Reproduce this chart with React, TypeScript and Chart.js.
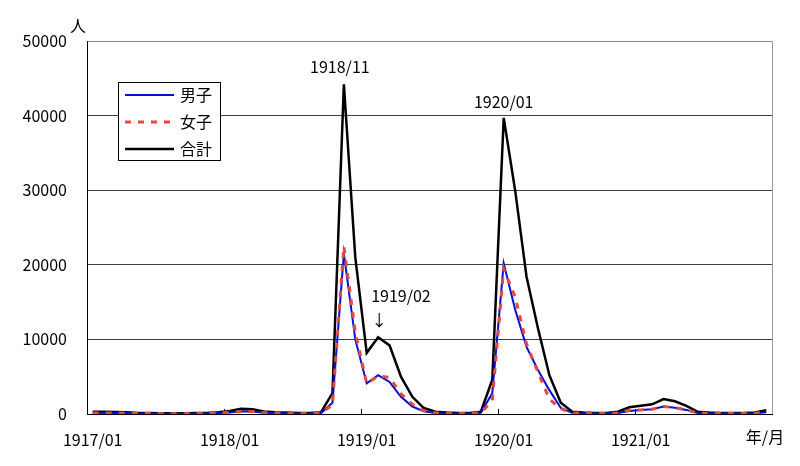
import React, { useEffect, useRef } from 'react';
import { Chart, registerables } from 'chart.js';

Chart.register(...registerables);

const years = ['1917', '1918', '1919', '1920', '1921'];
const monthsOfYear = ['01', '02', '03', '04', '05', '06', '07', '08', '09', '10', '11', '12'];
const categories = years.flatMap((y) => monthsOfYear.map((m) => `${y}/${m}`));
const tickLabels = ['1917/01', '1918/01', '1919/01', '1920/01', '1921/01'];
const yTicks = [0, 10000, 20000, 30000, 40000, 50000];

const maleValues = [
  150, 150, 140, 120, 70, 60, 50, 50, 50, 60, 70, 120,
  200, 360, 320, 170, 120, 100, 70, 70, 120, 1500, 21500, 10000,
  4100, 5200, 4300, 2300, 1000, 350, 150, 100, 70, 70, 150, 2800,
  20200, 14000, 9000, 5900, 3200, 800, 150, 100, 70, 70, 150, 400,
  550, 650, 1000, 850, 550, 150, 100, 70, 70, 70, 100, 250,
];
const femaleValues = [
  150, 150, 140, 130, 80, 60, 50, 50, 50, 60, 80, 130,
  200, 340, 330, 180, 130, 100, 80, 80, 130, 1200, 22500, 11000,
  4100, 5100, 4900, 2700, 1300, 450, 150, 100, 80, 80, 150, 1800,
  19500, 15700, 9400, 5600, 2000, 700, 150, 100, 80, 80, 150, 500,
  550, 650, 1000, 850, 550, 150, 100, 80, 80, 80, 100, 250,
];
const totalValues = [
  300, 300, 280, 250, 150, 120, 100, 100, 100, 120, 150, 250,
  400, 700, 650, 350, 250, 200, 150, 150, 250, 2800, 44200, 21000,
  8200, 10300, 9200, 5000, 2300, 800, 300, 200, 150, 150, 300, 4600,
  39700, 30000, 18400, 11500, 5200, 1500, 300, 200, 150, 150, 300, 900,
  1100, 1300, 2000, 1700, 1100, 300, 200, 150, 150, 150, 200, 500,
];

const seriesNames = ['男子', '女子', '合計'];
const peakLabels = ['1918/11', '1920/01', '1919/02'];
const yUnit = '人';
const xUnit = '年/月';

const FONT = '"Noto Sans CJK JP", "Noto Sans", sans-serif';

const decorPlugin = {
  id: 'decor',
  beforeDatasetsDraw(chart: any) {
    const { ctx, chartArea } = chart;
    const { left, right, top, bottom } = chartArea;
    const x = chart.scales.x;
    ctx.save();
    // right border
    ctx.strokeStyle = '#9a9a9a';
    ctx.lineWidth = 1;
    ctx.beginPath();
    ctx.moveTo(Math.round(right) + 0.5, top);
    ctx.lineTo(Math.round(right) + 0.5, bottom);
    ctx.stroke();
    // inward tick marks at year boundaries
    ctx.strokeStyle = '#000';
    tickLabels.forEach((lab) => {
      const i = categories.indexOf(lab);
      if (i <= 0) return;
      const px = Math.round((x.getPixelForValue(i - 1) + x.getPixelForValue(i)) / 2) + 0.5;
      ctx.beginPath();
      ctx.moveTo(px, bottom);
      ctx.lineTo(px, bottom - 5);
      ctx.stroke();
    });
    ctx.restore();
  },
  afterDraw(chart: any) {
    const { ctx, chartArea } = chart;
    const { left, right, top, bottom } = chartArea;
    const x = chart.scales.x;
    const y = chart.scales.y;
    ctx.save();
    ctx.font = `16px ${FONT}`;
    ctx.fillStyle = '#000';
    ctx.textBaseline = 'middle';

    // unit labels
    ctx.textAlign = 'center';
    ctx.fillText(yUnit, left - 9, top - 15);
    ctx.fillText(xUnit, right - 7, bottom + 23);

    // peak annotations
    const i1 = categories.indexOf(peakLabels[0]);
    ctx.fillText(peakLabels[0], x.getPixelForValue(i1) - 4, y.getPixelForValue(totalValues[i1]) - 17);
    const i2 = categories.indexOf(peakLabels[1]);
    ctx.fillText(peakLabels[1], x.getPixelForValue(i2), y.getPixelForValue(totalValues[i2]) - 16);
    const i3 = categories.indexOf(peakLabels[2]);
    const p3x = x.getPixelForValue(i3);
    const p3y = y.getPixelForValue(totalValues[i3]);
    ctx.textAlign = 'left';
    ctx.fillText(peakLabels[2], p3x - 7, p3y - 41);
    ctx.textAlign = 'center';
    ctx.fillText('↓', p3x + 1, p3y - 17);

    // legend
    const lx = left + 31;
    const ly = top + 41;
    const lw = 102;
    const lh = 78;
    ctx.fillStyle = '#fff';
    ctx.fillRect(lx, ly, lw, lh);
    ctx.strokeStyle = '#000';
    ctx.lineWidth = 1;
    ctx.strokeRect(Math.round(lx) + 0.5, Math.round(ly) + 0.5, lw, lh);
    const order = [1, 2, 0]; // datasets indices: male, female, total (by legend order)
    seriesNames.forEach((name, k) => {
      const ds = chart.data.datasets.find((d: any) => d.label === name);
      const ry = ly + 13 + k * 27;
      ctx.save();
      ctx.strokeStyle = ds.borderColor;
      ctx.lineWidth = ds.borderWidth;
      ctx.setLineDash(ds.borderDash || []);
      ctx.beginPath();
      ctx.moveTo(lx + 7, ry);
      ctx.lineTo(lx + 56, ry);
      ctx.stroke();
      ctx.restore();
      ctx.fillStyle = '#000';
      ctx.textAlign = 'left';
      ctx.fillText(name, lx + 62, ry);
    });
    void order;
    ctx.restore();
  },
};

export default function App() {
  const canvasRef = useRef<HTMLCanvasElement | null>(null);

  useEffect(() => {
    if (!canvasRef.current) return;
    Chart.defaults.font.family = FONT;
    const chart = new Chart(canvasRef.current, {
      type: 'line',
      data: {
        labels: categories,
        datasets: [
          {
            label: seriesNames[1],
            data: femaleValues,
            borderColor: '#e8483c',
            borderWidth: 3,
            borderDash: [6, 7],
            pointRadius: 0,
            tension: 0,
            order: 0,
          },
          {
            label: seriesNames[0],
            data: maleValues,
            borderColor: '#0010d8',
            borderWidth: 2,
            pointRadius: 0,
            tension: 0,
            order: 1,
          },
          {
            label: seriesNames[2],
            data: totalValues,
            borderColor: '#000000',
            borderWidth: 2.5,
            pointRadius: 0,
            tension: 0,
            order: 2,
          },
        ],
      },
      options: {
        responsive: true,
        maintainAspectRatio: false,
        animation: false,
        layout: { padding: { top: 41, right: 28, left: 0, bottom: 0 } },
        plugins: {
          legend: { display: false },
          tooltip: { enabled: false },
        },
        scales: {
          x: {
            type: 'category',
            offset: true,
            grid: { display: false, drawTicks: false },
            border: { display: true, color: '#000', width: 1 },
            ticks: {
              autoSkip: false,
              maxRotation: 0,
              minRotation: 0,
              padding: 16,
              color: '#000',
              font: { size: 16, family: FONT },
              callback: (_v: any, i: number) => (tickLabels.includes(categories[i]) ? categories[i] : ''),
            },
            afterFit: (s: any) => {
              s.height = 52;
            },
          },
          y: {
            min: yTicks[0],
            max: yTicks[yTicks.length - 1],
            afterBuildTicks: (s: any) => {
              s.ticks = yTicks.map((v) => ({ value: v }));
            },
            ticks: {
              padding: 20,
              color: '#000',
              font: { size: 16, family: FONT },
              callback: (v: any) => String(v),
            },
            grid: {
              drawTicks: false,
              lineWidth: 1,
              color: (ctx: any) => (ctx.tick && ctx.tick.value === 50000 ? '#8a8a8a' : '#404040'),
            },
            border: { display: true, color: '#000', width: 1 },
            afterFit: (s: any) => {
              s.width = 87;
            },
          },
        },
      } as any,
      plugins: [decorPlugin],
    });
    return () => chart.destroy();
  }, []);

  return (
    <div style={{ position: 'fixed', left: 0, top: 0, width: 800, height: 466, background: '#fff' }}>
      <canvas ref={canvasRef} />
    </div>
  );
}
